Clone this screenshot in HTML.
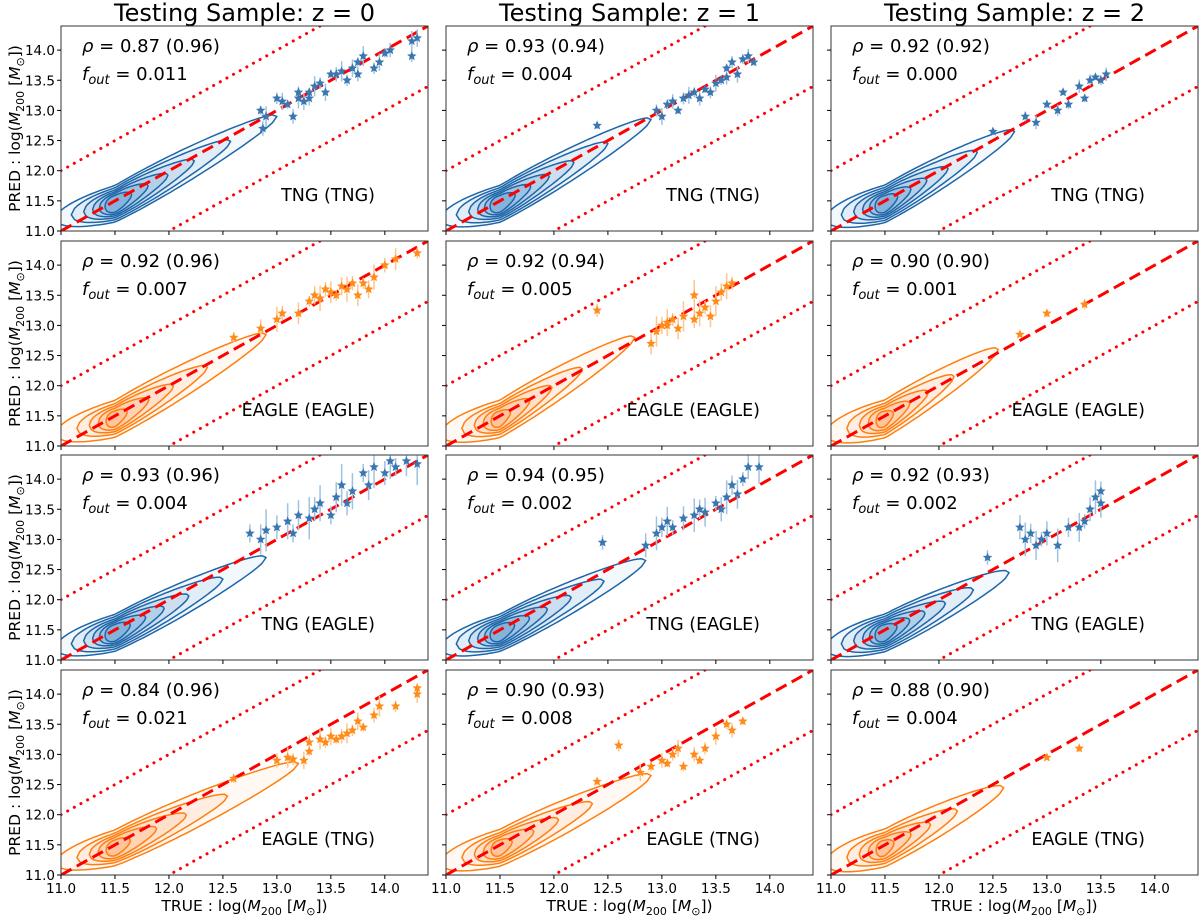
<!DOCTYPE html>
<html><head><meta charset="utf-8">
<style>
html,body{margin:0;padding:0;background:#fff;}
svg{display:block;font-family:"DejaVu Sans","Liberation Sans",sans-serif;}
</style></head>
<body>
<svg id="fig" width="1200" height="917" viewBox="0 0 1200 917" xmlns="http://www.w3.org/2000/svg"></svg>
<script>
// ---- data ----
const colTitles = ["Testing Sample: z = 0","Testing Sample: z = 1","Testing Sample: z = 2"];
const rowLabels = ["TNG (TNG)","EAGLE (EAGLE)","TNG (EAGLE)","EAGLE (TNG)"];
const rowColors = ["blue","orange","blue","orange"];
const rhoText = [["0.87 (0.96)","0.93 (0.94)","0.92 (0.92)"],["0.92 (0.96)","0.92 (0.94)","0.90 (0.90)"],["0.93 (0.96)","0.94 (0.95)","0.92 (0.93)"],["0.84 (0.96)","0.90 (0.93)","0.88 (0.90)"]];
const foutText = [["0.011","0.004","0.000"],["0.007","0.005","0.001"],["0.004","0.002","0.002"],["0.021","0.008","0.004"]];
const tickVals = [11.0,11.5,12.0,12.5,13.0,13.5,14.0];
const contourXmax = [[13.0,12.9,12.7],[12.9,12.75,12.55],[12.9,12.85,12.65],[13.2,12.9,12.6]];
const contourYmax = [[12.9,12.85,12.65],[12.85,12.8,12.6],[12.7,12.65,12.45],[12.85,12.65,12.45]];
const blueLevels = [1,0.72,0.5,0.34,0.22,0.12];
const orangeLevels = [1,0.62,0.4,0.24,0.1];
const ptsX = [
 [[12.85,12.87,12.9,13.0,13.05,13.1,13.15,13.2,13.2,13.25,13.3,13.3,13.35,13.4,13.45,13.5,13.55,13.6,13.65,13.7,13.75,13.75,13.8,13.9,13.95,14.0,14.05,14.25,14.25,14.3],
  [12.4,12.95,13.0,13.05,13.1,13.15,13.2,13.25,13.3,13.35,13.4,13.45,13.5,13.55,13.6,13.6,13.65,13.7,13.75,13.8,13.85],
  [12.5,12.8,12.9,13.0,13.1,13.15,13.2,13.3,13.35,13.4,13.45,13.5,13.55]],
 [[12.6,12.85,13.0,13.05,13.2,13.3,13.35,13.4,13.45,13.5,13.55,13.6,13.65,13.7,13.75,13.8,13.85,13.9,14.0,14.1,14.3],
  [12.4,12.9,12.95,13.0,13.05,13.1,13.15,13.2,13.3,13.35,13.4,13.45,13.5,13.55,13.6,13.65,13.05,13.3],
  [12.75,13.0,13.35]],
 [[12.75,12.85,12.9,13.0,13.1,13.15,13.2,13.3,13.35,13.4,13.5,13.55,13.6,13.65,13.7,13.8,13.85,13.9,14.0,14.05,14.1,14.2,14.3],
  [12.45,12.85,12.95,13.0,13.05,13.1,13.2,13.3,13.35,13.4,13.5,13.55,13.6,13.65,13.7,13.75,13.8,13.9],
  [12.45,12.75,12.8,12.85,12.9,12.95,13.0,13.1,13.2,13.3,13.35,13.4,13.45,13.5,13.5]],
 [[12.6,13.0,13.1,13.15,13.25,13.3,13.3,13.4,13.45,13.5,13.55,13.6,13.65,13.7,13.75,13.8,13.9,13.95,14.1,14.3,14.3],
  [12.4,12.6,12.8,12.9,13.0,13.05,13.1,13.15,13.2,13.3,13.35,13.4,13.5,13.6,13.65,13.75],
  [13.0,13.3]]
];
const ptsY = [
 [[13.0,12.7,12.9,13.2,13.15,13.1,12.9,13.2,13.3,13.15,13.3,13.2,13.4,13.45,13.3,13.6,13.6,13.65,13.5,13.7,13.8,13.6,13.9,13.7,13.8,13.95,14.0,14.15,13.9,14.2],
  [12.75,13.0,12.9,13.1,13.15,13.0,13.2,13.25,13.3,13.2,13.35,13.3,13.45,13.5,13.55,13.7,13.8,13.6,13.85,13.9,13.8],
  [12.65,12.9,12.8,13.1,13.0,13.3,13.1,13.4,13.2,13.5,13.55,13.5,13.6]],
 [[12.8,12.95,13.1,13.2,13.2,13.4,13.5,13.45,13.6,13.55,13.5,13.65,13.6,13.7,13.5,13.7,13.6,13.8,14.0,14.1,14.2],
  [13.25,12.7,12.9,13.0,13.05,13.1,12.95,13.15,13.1,13.2,13.3,13.15,13.4,13.55,13.65,13.7,13.0,13.5],
  [12.85,13.2,13.35]],
 [[13.1,13.0,13.15,13.2,13.3,13.1,13.4,13.35,13.5,13.6,13.4,13.7,13.9,13.6,13.8,14.1,13.9,14.2,14.1,14.3,14.2,14.3,14.25],
  [12.95,12.9,13.1,13.2,13.3,13.2,13.35,13.4,13.5,13.45,13.6,13.5,13.7,13.9,13.75,14.0,14.2,14.2],
  [12.7,13.2,13.0,13.1,12.9,13.0,13.1,12.9,13.2,13.2,13.3,13.5,13.7,13.8,13.6]],
 [[12.6,12.9,12.95,12.92,12.9,13.05,13.2,13.25,13.2,13.3,13.25,13.3,13.35,13.4,13.55,13.45,13.65,13.8,13.8,14.0,14.1],
  [12.55,13.15,12.7,12.8,12.9,12.85,13.0,13.1,12.8,13.0,12.9,13.1,13.3,13.5,13.4,13.55],
  [12.95,13.1]]
];
const errSize = [[0.12,0.1,0.08],[0.15,0.18,0.06],[0.25,0.2,0.2],[0.12,0.1,0.06]];

// ---- layout ----
const colX=[61,446,831], rowY=[26,241,455,670], PW=367, PH=205, LO=11, HI=14.4;
const NS="http://www.w3.org/2000/svg";
const svg=document.getElementById('fig');
function el(tag,attrs,parent){const e=document.createElementNS(NS,tag);for(const k in attrs)e.setAttribute(k,attrs[k]);(parent||svg).appendChild(e);return e;}
const palette={blue:{line:"#1f66a8",fill:"#3a86c8",pt:"#3a76af",err:"#9ec2e0"},orange:{line:"#ff7f0e",fill:"#ff8c3a",pt:"#ff8c1a",err:"#ffc58c"}};

function star(cx,cy,r){let p=[];for(let i=0;i<10;i++){const a=-Math.PI/2+i*Math.PI/5;const rr=i%2?r*0.45:r;p.push((cx+rr*Math.cos(a)).toFixed(1)+","+(cy+rr*Math.sin(a)).toFixed(1));}return p.join(" ");}

colTitles.forEach((t,c)=>{
  const tt=el('text',{x:colX[c]+PW/2,y:21,'text-anchor':'middle','font-size':24,fill:'#000'});
  tt.textContent=t;
  
  
});

for(let r=0;r<4;r++)for(let c=0;c<3;c++){
  const x0=colX[c], y0=rowY[r];
  const sx=v=>x0+(v-LO)/(HI-LO)*PW;
  const sy=v=>y0+PH-(v-LO)/(HI-LO)*PH;
  const g=el('g',{});
  
  
  const clipId='clip'+r+c;
  const cp=el('clipPath',{id:clipId},g);el('rect',{x:x0,y:y0,width:PW,height:PH},cp);
  const inner=el('g',{'clip-path':'url(#'+clipId+')'},g);
  const pal=palette[rowColors[r]];
  // contours
  const levels=rowColors[r]==="blue"?blueLevels:orangeLevels;
  const xmax=contourXmax[r][c], ymax=contourYmax[r][c];
  const sR=(ymax-11.45)/(xmax-11.5);
  const ridge=x=>x<11.5?11.45+0.45*(x-11.5):11.45+sR*(x-11.5);
  levels.forEach((f,i)=>{
    const l=11.47-f*0.52, rr=11.47+f*(xmax-11.47);
    const b=0.05+0.3*Math.sqrt(f);
    const N=50, up=[], dn=[];
    for(let k=0;k<=N;k++){
      const t=k/N, x=l+(rr-l)*t;
      const hw=b*2*Math.sqrt(t*(1-t))*(1.1-0.45*t);
      const y=ridge(x);
      up.push(sx(x).toFixed(1)+","+sy(y+hw).toFixed(1));
      dn.push(sx(x).toFixed(1)+","+sy(y-hw).toFixed(1));
    }
    const d="M"+up.join("L")+"L"+dn.reverse().join("L")+"Z";
    const p=el('path',{d:d,fill:pal.fill,'fill-opacity':0.06+0.035*i,stroke:pal.line,'stroke-width':1.5,'stroke-linejoin':'round'},inner);
    
    
  });
  // lines
  const l1=el('line',{x1:sx(LO),y1:sy(LO),x2:sx(HI),y2:sy(HI),stroke:'#ff0000','stroke-width':3,'stroke-dasharray':'12,6'},inner);
  
  
  [1,-1].forEach(o=>{
    const l=el('line',{x1:sx(LO),y1:sy(LO+o),x2:sx(HI),y2:sy(HI+o),stroke:'#ff0000','stroke-width':3,'stroke-dasharray':'0.1,7.5','stroke-linecap':'round'},inner);
    
    
  });
  // points
  const xs=ptsX[r][c], ys=ptsY[r][c], e=errSize[r][c];
  xs.forEach((xv,i)=>{
    const ev=e*(0.6+0.8*((i*7)%5)/4);
    const eb=el('line',{x1:sx(xv),x2:sx(xv),y1:sy(ys[i]-ev),y2:sy(ys[i]+ev),stroke:pal.err,'stroke-width':1.5},inner);
    
    
  });
  xs.forEach((xv,i)=>{
    const s=el('polygon',{points:star(sx(xv),sy(ys[i]),5),fill:pal.pt},inner);
    
    
  });
  // frame
  const fr=el('rect',{x:x0,y:y0,width:PW,height:PH,fill:'none',stroke:'#333','stroke-width':1},g);
  
  
  // ticks
  tickVals.forEach(v=>{
    el('line',{x1:sx(v),x2:sx(v),y1:y0+PH,y2:y0+PH+4,stroke:'#000'},g);
    el('line',{x1:x0,x2:x0-4,y1:sy(v),y2:sy(v),stroke:'#000'},g);
    if(c===0){const t=el('text',{x:x0-6,y:sy(v)+5,'text-anchor':'end','font-size':13.5},g);t.textContent=v.toFixed(1);
      }
    if(r===3){const t=el('text',{x:sx(v),y:y0+PH+18,'text-anchor':'middle','font-size':13.5},g);t.textContent=v.toFixed(1);
      }
  });
  // annotations
  const t1=el('text',{x:x0+21,y:y0+26,'font-size':18},g);
  t1.innerHTML='<tspan font-style="italic">ρ</tspan> = '+rhoText[r][c];
  
  const t2=el('text',{x:x0+21,y:y0+54,'font-size':18},g);
  t2.innerHTML='<tspan font-style="italic">f</tspan><tspan font-style="italic" font-size="13" dy="4">out</tspan><tspan dy="-4"> = '+foutText[r][c]+'</tspan>';
  
  const t3=el('text',{x:x0+PW-53,y:y0+175,'font-size':17.5,'text-anchor':'end'},g);
  t3.textContent=rowLabels[r];
  
  if(c===0){
    const yl=el('text',{transform:'translate(20,'+(y0+PH/2)+') rotate(-90)','text-anchor':'middle','font-size':15.5},svg);
    yl.innerHTML='PRED :  log(<tspan font-style="italic">M</tspan><tspan font-size="11" dy="4">200</tspan><tspan dy="-4"> [</tspan><tspan font-style="italic">M</tspan><tspan font-size="11" dy="4">⊙</tspan><tspan dy="-4">])</tspan>';
    
  }
  if(r===3){
    const xl=el('text',{x:x0+PW/2,y:911,'text-anchor':'middle','font-size':15.5},svg);
    xl.innerHTML='TRUE :  log(<tspan font-style="italic">M</tspan><tspan font-size="11" dy="4">200</tspan><tspan dy="-4"> [</tspan><tspan font-style="italic">M</tspan><tspan font-size="11" dy="4">⊙</tspan><tspan dy="-4">])</tspan>';
    
  }
}
</script>
</body></html>
